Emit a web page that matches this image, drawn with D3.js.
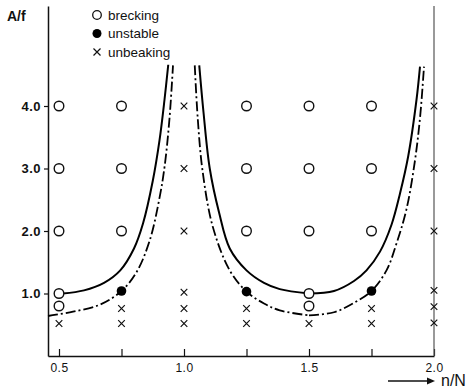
<!DOCTYPE html>
<html>
<head>
<meta charset="utf-8">
<script src="https://cdn.jsdelivr.net/npm/d3@7"></script>
<style>
  body { margin: 0; background: #fff; }
  text { font-family: "Liberation Sans", Arial, sans-serif; fill: #111; }
</style>
</head>
<body>
<div id="visual"></div>
<script>
// data
var breaking = [
  [0.5, 4], [0.5, 3], [0.5, 2], [0.5, 1.0], [0.5, 0.8],
  [0.75, 4], [0.75, 3], [0.75, 2],
  [1.25, 4], [1.25, 3], [1.25, 2],
  [1.5, 4], [1.5, 3], [1.5, 2], [1.5, 1.0], [1.5, 0.8],
  [1.75, 4], [1.75, 3], [1.75, 2]
];
var unstable = [[0.75, 1.04], [1.25, 1.03], [1.75, 1.04]];
var unbreaking = [
  [0.5, 0.52],
  [0.75, 0.76], [0.75, 0.52],
  [1.0, 4], [1.0, 3], [1.0, 2], [1.0, 1.02], [1.0, 0.76], [1.0, 0.52],
  [1.25, 0.76], [1.25, 0.52],
  [1.5, 0.52],
  [1.75, 0.76], [1.75, 0.52],
  [2.0, 4], [2.0, 3], [2.0, 2], [2.0, 1.05], [2.0, 0.79], [2.0, 0.53]
];

// solid boundary, three branches
var solidLeft = [[0.515, 1.0], [0.6, 1.05], [0.68, 1.17], [0.745, 1.37], [0.8, 1.72],
  [0.836, 2.12], [0.875, 2.8], [0.902, 3.45], [0.922, 4.1], [0.937, 4.66]];
var solidMid = [[1.061, 4.65], [1.078, 3.9], [1.103, 3.0], [1.14, 2.3], [1.183, 1.72],
  [1.25, 1.37], [1.32, 1.17], [1.383, 1.07], [1.5, 1.0]];
var solidRight = [[1.5, 1.0], [1.6, 1.04], [1.68, 1.2], [1.73, 1.37], [1.784, 1.67],
  [1.83, 2.1], [1.864, 2.6], [1.897, 3.2], [1.93, 4.1], [1.944, 4.63]];

// dash-dot boundary
var dashLeft = [[0.456, 0.64], [0.556, 0.71], [0.663, 0.82], [0.75, 1.04], [0.81, 1.34],
  [0.863, 1.85], [0.903, 2.55], [0.923, 3.05], [0.942, 3.8], [0.956, 4.65]];
var dashMid = [[1.043, 4.65], [1.055, 3.8], [1.074, 2.97], [1.115, 2.07], [1.183, 1.37],
  [1.25, 1.03], [1.32, 0.84], [1.383, 0.73], [1.5, 0.65]];
var dashRight = [[1.5, 0.65], [1.6, 0.7], [1.68, 0.85], [1.75, 1.04], [1.81, 1.37],
  [1.85, 1.8], [1.89, 2.35], [1.924, 3.13], [1.945, 3.85], [1.96, 4.63]];

var xTicks = [0.5, 0.75, 1.0, 1.25, 1.5, 1.75, 2.0];
var xLabels = [0.5, 1.0, 1.5, 2.0];
var yTicks = [1, 2, 3, 4];

var width = 471, height = 389;

var svg = d3.select("#visual")
  .append("svg")
    .attr("width", width)
    .attr("height", height);

var x = d3.scaleLinear().domain([0.456, 2.0]).range([48, 434]);
var y = d3.scaleLinear().domain([0, 5.6]).range([356, 6]);

// x axis, ticks pointing up
var xAxis = svg.append("g")
  .attr("transform", "translate(0," + y(0) + ")")
  .call(d3.axisBottom(x)
    .tickValues(xTicks)
    .tickSizeInner(-7)
    .tickSizeOuter(0)
    .tickPadding(7)
    .tickFormat(function(d) { return xLabels.indexOf(d) >= 0 ? d3.format(".1f")(d) : ""; }));
xAxis.select(".domain").attr("stroke", "#111").attr("stroke-width", 1.5);
xAxis.selectAll(".tick line").attr("stroke", "#111").attr("stroke-width", 1.2);
xAxis.selectAll("text").style("font-size", "12px").style("letter-spacing", "0.5px").attr("fill", "#111");

// y axis
var yAxis = svg.append("g")
  .attr("transform", "translate(" + x.range()[0] + ",0)")
  .call(d3.axisLeft(y)
    .tickValues(yTicks)
    .tickSizeInner(4)
    .tickSizeOuter(0)
    .tickPadding(3)
    .tickFormat(d3.format(".1f")));
yAxis.select(".domain").attr("stroke", "#111").attr("stroke-width", 1.5);
yAxis.selectAll(".tick line").attr("stroke", "#111").attr("stroke-width", 1.2);
yAxis.selectAll("text").style("font-size", "13px").style("font-weight", "bold")
  .style("letter-spacing", "0.5px").attr("fill", "#111");

// vertical line at n/N = 2
svg.append("line")
  .attr("x1", x(2.0)).attr("x2", x(2.0))
  .attr("y1", y(5.6)).attr("y2", y(0))
  .attr("stroke", "#555")
  .attr("stroke-width", 1.2);

// axis titles
svg.append("text")
  .attr("x", 7).attr("y", 21)
  .style("font-size", "14px").style("font-weight", "bold")
  .text("A/f");

svg.append("line")
  .attr("x1", 388).attr("x2", 430)
  .attr("y1", 381).attr("y2", 381)
  .attr("stroke", "#111").attr("stroke-width", 1.5);
svg.append("path")
  .attr("d", "M427,377.5 L435,381 L427,384.5 Z")
  .attr("fill", "#111");
svg.append("text")
  .attr("x", 441).attr("y", 386)
  .style("font-size", "16px")
  .text("n/N");

// curves
var line = d3.line()
  .x(function(d) { return x(d[0]); })
  .y(function(d) { return y(d[1]); })
  .curve(d3.curveCatmullRom.alpha(0.5));

[solidLeft, solidMid, solidRight].forEach(function(s) {
  svg.append("path")
    .datum(s)
    .attr("fill", "none")
    .attr("stroke", "#000")
    .attr("stroke-width", 2)
    .attr("d", line);
});

[dashLeft, dashMid, dashRight].forEach(function(s) {
  svg.append("path")
    .datum(s)
    .attr("fill", "none")
    .attr("stroke", "#000")
    .attr("stroke-width", 1.8)
    .attr("stroke-dasharray", "10,3,2,3")
    .attr("d", line);
});

// markers
function cross(g, cx, cy, r) {
  g.append("path")
    .attr("d", "M" + (cx - r) + "," + (cy - r) + "L" + (cx + r) + "," + (cy + r) +
               "M" + (cx - r) + "," + (cy + r) + "L" + (cx + r) + "," + (cy - r))
    .attr("stroke", "#111")
    .attr("stroke-width", 1.2)
    .attr("fill", "none");
}

svg.selectAll("circle.brk")
  .data(breaking)
  .enter()
  .append("circle")
  .attr("class", "brk")
  .attr("cx", function(d) { return x(d[0]); })
  .attr("cy", function(d) { return y(d[1]); })
  .attr("r", 4.8)
  .attr("fill", "#fff")
  .attr("stroke", "#111")
  .attr("stroke-width", 1.4);

svg.selectAll("circle.uns")
  .data(unstable)
  .enter()
  .append("circle")
  .attr("class", "uns")
  .attr("cx", function(d) { return x(d[0]); })
  .attr("cy", function(d) { return y(d[1]); })
  .attr("r", 4.8)
  .attr("fill", "#000");

var crossG = svg.append("g");
unbreaking.forEach(function(d) {
  cross(crossG, x(d[0]), y(d[1]), 3.3);
});

// legend
var legend = svg.append("g");
legend.append("circle")
  .attr("cx", 97).attr("cy", 15).attr("r", 4.3)
  .attr("fill", "#fff").attr("stroke", "#111").attr("stroke-width", 1.3);
legend.append("circle")
  .attr("cx", 97).attr("cy", 33.5).attr("r", 4.5)
  .attr("fill", "#000");
cross(legend, 97, 52, 3.5);
var legendText = ["brecking", "unstable", "unbeaking"];
legendText.forEach(function(t, i) {
  legend.append("text")
    .attr("x", 108)
    .attr("y", 19.5 + i * 18.5)
    .style("font-size", "13.5px")
    .text(t);
});
</script>
</body>
</html>
